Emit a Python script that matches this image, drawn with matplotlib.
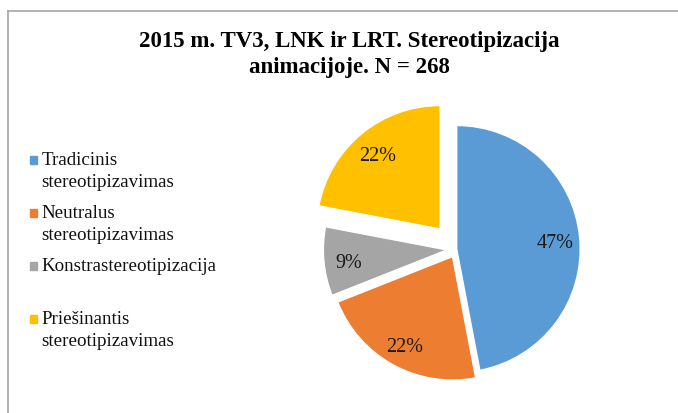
"""2015 m. TV3, LNK ir LRT: stereotipizacija animacijoje (N = 268)."""

import matplotlib
matplotlib.use("Agg")
import matplotlib.pyplot as plt
from matplotlib.lines import Line2D
from matplotlib.patches import Rectangle

W, H = 678, 414

categories = [
    "Tradicinis\nstereotipizavimas",
    "Neutralus\nstereotipizavimas",
    "Konstrastereotipizacija",
    "Priešinantis\nstereotipizavimas",
]
shares = [47, 22, 9, 22]
colors = ["#5B9BD5", "#ED7D31", "#A5A5A5", "#FFC000"]
explode = [0.0, 0.07, 0.08, 0.21]

title_lines = ["2015 m. TV3, LNK ir LRT. Stereotipizacija", "animacijoje. N = 268"]

plt.rcParams["font.family"] = ["Liberation Serif", "DejaVu Serif"]


def px(x, y):
    # pikseliai (nuo viršaus) -> figūros dalys
    return x / W, 1 - y / H


def main():
    fig = plt.figure(figsize=(W / 100, H / 100), dpi=100)

    # rėmelis: tik viršus ir kairė
    fig.add_artist(Line2D([8 / W, 1], [1 - 11.5 / H] * 2, color="#A6A6A6", lw=1.2))
    fig.add_artist(Line2D([8 / W] * 2, [0, 1 - 11.5 / H], color="#A6A6A6", lw=1.2))

    for j, line in enumerate(title_lines):
        fx, fy = px(349, 46.5 + 26 * j)
        fig.text(fx, fy, line, ha="center", va="baseline", fontsize=16.5,
                 fontweight="bold")

    # skritulys: centras (456.7, 250), spindulys ~123.5 px
    r = 123.5
    cx, cy = 456.7, 250
    aw, ah = 313.4, 320
    ax = fig.add_axes([(cx - aw / 2) / W, 1 - (cy + ah / 2) / H, aw / W, ah / H])
    wedges, texts, autotexts = ax.pie(
        shares, colors=colors, explode=explode, startangle=90, counterclock=False,
        autopct="%1.0f%%", pctdistance=0.8,
        wedgeprops=dict(edgecolor="white", linewidth=1),
        textprops=dict(fontsize=14.5, color="#1a1a1a"))
    for t in autotexts:
        x, y = t.get_position()
        t.set_position((x, y - 0.025))
    ax.set_xlim(-aw / 2 / r, aw / 2 / r)
    ax.set_ylim(-ah / 2 / r, ah / 2 / r)
    ax.set_aspect("equal")
    ax.axis("off")

    # legenda kairėje
    for i, (lab, col) in enumerate(zip(categories, colors)):
        y0 = 161 + 53 * i
        x0, y0f = px(29.5, y0 + 3.7)
        fig.add_artist(Rectangle((x0, y0f), 7.3 / W, 7.3 / H, color=col,
                                 transform=fig.transFigure))
        for j, line in enumerate(lab.split("\n")):
            fx, fy = px(41.5, y0 + 22 * j)
            fig.text(fx, fy, line, ha="left", va="center", fontsize=13.7,
                     color="#111111")

    fig.savefig("out.png", dpi=100)


if __name__ == "__main__":
    main()
